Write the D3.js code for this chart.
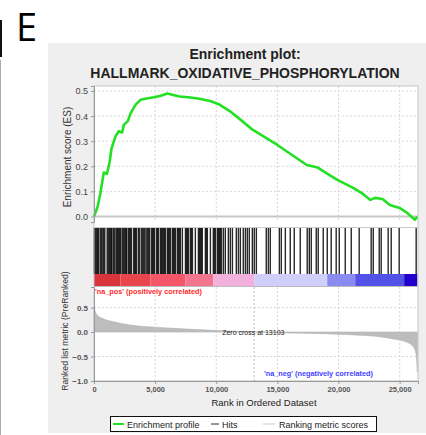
<!DOCTYPE html>
<html>
<head>
<meta charset="utf-8">
<script src="https://cdn.jsdelivr.net/npm/d3@7"></script>
<style>
  body { margin: 0; background: #fff; }
  svg { display: block; font-family: "Liberation Sans", Arial, sans-serif; }
</style>
</head>
<body>
<div id="chart"></div>
<script>
// ---- data ----
var totalRanks = 26450;
var zeroCross = 13103;

var esRanks = [0, 300, 530, 800, 1060, 1270, 1430, 1760, 2030, 2300, 2440, 2770, 2980, 3390, 3800, 4300, 4900, 5400, 6000, 6400, 7000, 7700, 8500, 9500, 10300, 11100, 12000, 13000, 14000, 15000, 16200, 17400, 18300, 19100, 19900, 21200, 22000, 22600, 23000, 23600, 24200, 25000, 25600, 26250, 26450];
var esValues = [0, 0.04, 0.095, 0.175, 0.17, 0.215, 0.27, 0.32, 0.34, 0.335, 0.365, 0.38, 0.41, 0.445, 0.465, 0.47, 0.475, 0.48, 0.49, 0.485, 0.478, 0.475, 0.47, 0.46, 0.445, 0.42, 0.385, 0.345, 0.315, 0.285, 0.245, 0.205, 0.195, 0.17, 0.146, 0.114, 0.09, 0.066, 0.074, 0.07, 0.046, 0.034, 0.015, -0.013, 0.0];

var hitRanks = [20, 80, 150, 230, 300, 370, 510, 600, 720, 800, 880, 1080, 1160, 1250, 1330, 1410, 1450,
  1570, 1640, 1720, 1850, 1930, 2010, 2100, 2180, 2310, 2390, 2470, 2560, 2640, 2680, 2820, 2900, 2980, 3070,
  3250, 3330, 3400, 3480, 3640, 3700, 3860, 3940, 4020, 4100, 4180, 4320, 4400, 4480, 4560, 4720, 4800, 4880, 4960,
  5130, 5200, 5270, 5430, 5520, 5580, 5680, 5760, 5840, 6000, 6080, 6170, 6250, 6410, 6500, 6580, 6660,
  6820, 6900, 6990, 7070, 7230, 7480, 7560, 7640, 7720, 7880, 7960, 8050, 8290, 8540, 8620, 8700, 8780, 8860,
  9110, 9190, 9270, 9520, 9760, 9840, 9930, 10090, 10170, 10250, 10330,
  10420, 10580, 10740, 10990, 11150, 11320, 11640, 11810, 11970, 12210, 12380, 12540, 12700, 12950, 13110, 13280,
  14090, 14260, 14420, 15160, 15320, 15650, 16050, 16380, 16870, 17440, 17610, 17770, 18180, 18340, 18750, 19080,
  19400, 19810, 20060, 20550, 21040, 21690, 22670, 22840, 23330, 23490, 24060, 24310, 24960, 26350];

var metricRanks = [0, 100, 260, 670, 1600, 2800, 3800, 5000, 6500, 8000, 9300, 11000, 13103, 16000, 19000, 21000, 23500, 24500, 25500, 26000, 26300, 26400, 26450];
var metricValues = [0.52, 0.42, 0.35, 0.28, 0.21, 0.15, 0.12, 0.1, 0.075, 0.055, 0.04, 0.02, 0, -0.02, -0.035, -0.055, -0.1, -0.14, -0.2, -0.27, -0.4, -0.6, -0.82];

var bandEdges = [0, 2165, 4616, 7476, 9763, 13103, 19077, 21365, 25368, 26450];

var xTicks = [0, 5000, 10000, 15000, 20000, 25000];
var esTicks = [0.0, 0.1, 0.2, 0.3, 0.4, 0.5];
var metricTicks = [-1.0, -0.5, 0.0, 0.5];

var titleLines = ["Enrichment plot:", "HALLMARK_OXIDATIVE_PHOSPHORYLATION"];
var legendItems = ["Enrichment profile", "Hits", "Ranking metric scores"];

// ---- styles ----
var bandColors = ["#d9343c", "#e8454f", "#f4566a", "#f27590", "#f2b0dc", "#cfcff9", "#8a8af1", "#5252e6", "#2200cc"];
var esColor = "#22e022";

var svgWidth = 426, svgHeight = 435;
var plotLeft = 94, plotRight = 418;
var esTop = 86, esBottom = 222;
var hitTop = 228, hitBottom = 274;
var barBottom = 286;
var rkTop = 287, rkBottom = 381;

var svg = d3.select("#chart").append("svg")
    .attr("width", svgWidth)
    .attr("height", svgHeight);

// grey figure background
svg.append("rect").attr("x", 48).attr("y", 43).attr("width", 378).attr("height", 390).attr("fill", "#efefef");

// left edge bits from neighbouring panel
svg.append("rect").attr("x", 0).attr("y", 20).attr("width", 2).attr("height", 37).attr("fill", "#111");
svg.append("line").attr("x1", 0.5).attr("x2", 0.5).attr("y1", 60).attr("y2", 435).attr("stroke", "#aaa");

// panel letter
svg.append("text").attr("x", 16).attr("y", 41)
    .style("font-family", "'Open Sans', sans-serif").style("font-size", "38px").attr("fill", "#000")
    .text("E");

// title
svg.selectAll(".title").data(titleLines).enter().append("text")
    .attr("x", 245).attr("y", (d, i) => 59 + i * 18.5)
    .attr("text-anchor", "middle")
    .style("font-weight", "bold").style("font-size", "14px").attr("fill", "#222")
    .text(d => d);

// plot backgrounds
svg.append("rect").attr("x", plotLeft).attr("y", esTop).attr("width", plotRight - plotLeft).attr("height", rkBottom - esTop)
    .attr("fill", "#fff");

var x = d3.scaleLinear().domain([0, 26500]).range([plotLeft, plotRight]);
var yEs = d3.scaleLinear().domain([-0.022, 0.52]).range([esBottom, esTop]);
var yRk = d3.scaleLinear().domain([-1.0, 0.92]).range([rkBottom, rkTop]);

// grid lines
var grid = svg.append("g").attr("stroke", "#d8d8d8").attr("stroke-dasharray", "2,2");
grid.selectAll(".vg1").data(xTicks.slice(1)).enter().append("line")
    .attr("x1", d => x(d)).attr("x2", d => x(d)).attr("y1", esTop).attr("y2", esBottom);
grid.selectAll(".vg2").data(xTicks.slice(1)).enter().append("line")
    .attr("x1", d => x(d)).attr("x2", d => x(d)).attr("y1", rkTop).attr("y2", rkBottom);
grid.selectAll(".hg1").data(esTicks.slice(1)).enter().append("line")
    .attr("x1", plotLeft).attr("x2", plotRight).attr("y1", d => yEs(d)).attr("y2", d => yEs(d));
grid.selectAll(".hg2").data(metricTicks.filter(d => d !== 0)).enter().append("line")
    .attr("x1", plotLeft).attr("x2", plotRight).attr("y1", d => yRk(d)).attr("y2", d => yRk(d));

// zero line in ES panel
svg.append("line").attr("x1", plotLeft).attr("x2", plotRight).attr("y1", yEs(0)).attr("y2", yEs(0))
    .attr("stroke", "#c8c8c8").attr("stroke-width", 2);

// ES curve
var esData = esRanks.map((r, i) => ({ rank: r, es: esValues[i] }));
svg.append("path").datum(esData)
    .attr("fill", "none").attr("stroke", esColor).attr("stroke-width", 2.6).attr("stroke-linejoin", "round")
    .attr("d", d3.line().x(d => x(d.rank)).y(d => yEs(d.es)));

// hits
svg.append("g").selectAll("line").data(hitRanks).enter().append("line")
    .attr("x1", d => x(d)).attr("x2", d => x(d))
    .attr("y1", hitTop).attr("y2", hitBottom)
    .attr("stroke", "#111").attr("stroke-width", 1.4).attr("stroke-opacity", 0.9);

// colour bar
var bands = d3.range(bandEdges.length - 1).map(i => ({ a: bandEdges[i], b: bandEdges[i + 1], c: bandColors[i] }));
svg.append("g").selectAll("rect").data(bands).enter().append("rect")
    .attr("x", d => x(d.a)).attr("width", d => x(d.b) - x(d.a))
    .attr("y", hitBottom).attr("height", barBottom - hitBottom)
    .attr("fill", d => d.c);
svg.append("line").attr("x1", plotLeft).attr("x2", plotRight).attr("y1", barBottom + 0.5).attr("y2", barBottom + 0.5)
    .attr("stroke", "#bbb");
svg.append("line").attr("x1", plotLeft).attr("x2", plotRight).attr("y1", hitTop - 0.5).attr("y2", hitTop - 0.5)
    .attr("stroke", "#ccc");

// ranked metric area
var rkData = metricRanks.map((r, i) => ({ rank: r, v: metricValues[i] }));
svg.append("path").datum(rkData)
    .attr("fill", "#bdbdbd").attr("stroke", "#b0b0b0").attr("stroke-width", 0.6)
    .attr("d", d3.area().x(d => x(d.rank)).y0(yRk(0)).y1(d => yRk(d.v)).curve(d3.curveMonotoneX));

// zero cross marker
svg.append("line").attr("x1", x(zeroCross)).attr("x2", x(zeroCross)).attr("y1", rkTop).attr("y2", rkBottom)
    .attr("stroke", "#bbb").attr("stroke-dasharray", "2,2");
svg.append("text").attr("x", x(zeroCross) - 32).attr("y", yRk(0) + 3)
    .style("font-size", "7px").attr("fill", "#222")
    .text("Zero cross at " + zeroCross);

svg.append("text").attr("x", plotLeft + 1).attr("y", 294)
    .style("font-size", "7.3px").style("font-weight", "bold").attr("fill", "#ff2a2a")
    .text("'na_pos' (positively correlated)");
svg.append("text").attr("x", 264).attr("y", 376)
    .style("font-size", "7.3px").style("font-weight", "bold").attr("fill", "#4444ff")
    .text("'na_neg' (negatively correlated)");

// panel borders
svg.append("rect").attr("x", plotLeft).attr("y", esTop).attr("width", plotRight - plotLeft).attr("height", rkBottom - esTop)
    .attr("fill", "none").attr("stroke", "#c4c4c4");

// axes
function styleAxis(g, size) {
    g.select(".domain").attr("stroke", "#999");
    g.selectAll(".tick line").attr("stroke", "#999");
    g.selectAll(".tick text").attr("fill", "#444").style("font-size", size).style("font-family", "'Liberation Sans', Arial, sans-serif");
}
svg.append("g").attr("transform", `translate(${plotLeft},0)`)
    .call(d3.axisLeft(yEs).tickValues(esTicks).tickFormat(d3.format(".1f")).tickSize(3).tickPadding(3))
    .call(g => styleAxis(g, "9px"));
svg.append("g").attr("transform", `translate(${plotLeft},0)`)
    .call(d3.axisLeft(yRk).tickValues(metricTicks).tickFormat(d3.format(".1f")).tickSize(3).tickPadding(3))
    .call(g => styleAxis(g, "8px"))
    .call(g => g.selectAll(".tick text").style("font-weight", "bold").attr("fill", "#555"));
svg.append("g").attr("transform", `translate(0,${rkBottom})`)
    .call(d3.axisBottom(x).tickValues(xTicks).tickFormat(d3.format(",")).tickSize(3).tickPadding(3))
    .call(g => styleAxis(g, "7.5px"))
    .call(g => g.selectAll(".tick text").style("font-weight", "bold").attr("fill", "#555"));

// axis titles
svg.append("text").attr("transform", "translate(71,157) rotate(-90)")
    .attr("text-anchor", "middle").style("font-size", "10px").attr("fill", "#333")
    .text("Enrichment score (ES)");
svg.append("text").attr("transform", "translate(68,331) rotate(-90)")
    .attr("text-anchor", "middle").style("font-size", "8.6px").attr("fill", "#333")
    .text("Ranked list metric (PreRanked)");
svg.append("text").attr("x", 264).attr("y", 406)
    .attr("text-anchor", "middle").style("font-size", "9.5px").attr("fill", "#222")
    .text("Rank in Ordered Dataset");

// legend
var legend = svg.append("g");
legend.append("rect").attr("x", 110.5).attr("y", 416.5).attr("width", 266).attr("height", 15)
    .attr("fill", "#fff").attr("stroke", "#111");
var legendMarks = [
    { x: 113, w: 11, color: esColor, sw: 2 },
    { x: 211, w: 8, color: "#333", sw: 1 },
    { x: 263, w: 12, color: "#ddd", sw: 1.5 }
];
var legendTextX = [127, 222, 279];
legend.selectAll(".lm").data(legendMarks).enter().append("line")
    .attr("x1", d => d.x).attr("x2", d => d.x + d.w).attr("y1", 424).attr("y2", 424)
    .attr("stroke", d => d.color).attr("stroke-width", d => d.sw);
legend.selectAll(".lt").data(legendItems).enter().append("text")
    .attr("x", (d, i) => legendTextX[i]).attr("y", 427.5)
    .style("font-size", "9px").attr("fill", "#222")
    .text(d => d);
</script>
</body>
</html>
